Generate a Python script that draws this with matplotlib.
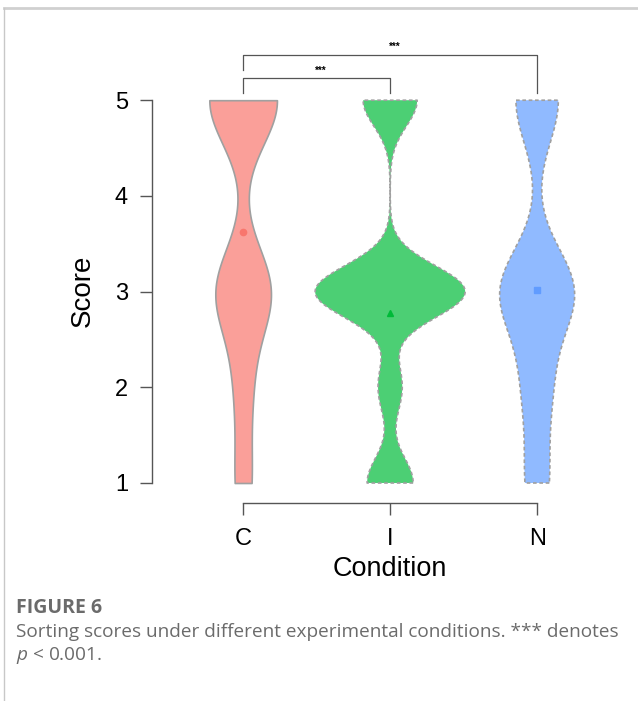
import numpy as np
import matplotlib.pyplot as plt
from matplotlib.lines import Line2D

# ---- data ----
conditions = ["C", "I", "N"]
score_levels = [1, 2, 3, 4, 5]
counts_c = [8, 8, 28, 0, 35]
counts_i = [23, 12, 75, 0, 27]
counts_n = [11, 13, 36, 0, 21]
mean_scores = [3.62, 2.78, 3.02]
y_ticks = [1, 2, 3, 4, 5]

# kde bandwidth (score units) and max violin width per condition
bandwidths = [0.46, 0.27, 0.45]
violin_widths = [0.46, 1.02, 0.51]

fill_colors = ["#FA9F99", "#4CCF74", "#90BAFF"]
mean_colors = ["#F8766D", "#00BA38", "#619CFF"]
mean_markers = ["o", "^", "s"]
edge_styles = ["-", (0, (2.2, 1.6)), (0, (2.2, 1.6))]

# significance brackets: (left, right, bar y, left leg end, right leg end)
brackets = [(0, 1, 5.233, 5.08, 5.08), (0, 2, 5.477, 5.32, 5.08)]
sig_labels = ["***", "***"]

plt.rcParams["font.family"] = ["Liberation Sans", "DejaVu Sans"]
plt.rcParams["mathtext.fontset"] = "custom"
plt.rcParams["mathtext.rm"] = "Open Sans"
plt.rcParams["mathtext.it"] = "Open Sans:italic"

W, H = 638, 701
fig = plt.figure(figsize=(W / 100, H / 100), dpi=100)
ax = fig.add_axes([152 / W, 1 - 503 / H, 466 / W, 465 / H])

groups = [counts_c, counts_i, counts_n]
for i, counts in enumerate(groups):
    data = np.repeat(score_levels, counts).astype(float)
    factor = bandwidths[i] / np.std(data, ddof=1)
    parts = ax.violinplot([data], positions=[i], widths=violin_widths[i],
                          bw_method=factor, showextrema=False, points=300)
    for body in parts["bodies"]:
        body.set_facecolor(fill_colors[i])
        body.set_edgecolor("#A0A0A0")
        body.set_linewidth(1.2)
        body.set_linestyle(edge_styles[i])
        body.set_alpha(1)
    ax.plot(i, mean_scores[i], marker=mean_markers[i], color=mean_colors[i],
            markersize=4.5, linestyle="none", zorder=3)

for (a, b, top, la, lb), lab in zip(brackets, sig_labels):
    ax.plot([a, a, b, b], [la, top, top, lb], color="#555555", lw=0.9,
            clip_on=False)
    ax.text((a + b) / 2 + 0.03, top + 0.025, lab, ha="center", va="bottom",
            fontsize=7, fontweight="bold")

ax.set_xlim(-0.62, 2.55)
ax.set_ylim(0.791, 5.65)
ax.set_xticks(range(len(conditions)), conditions)
ax.set_yticks(y_ticks)
for s in ["top", "right"]:
    ax.spines[s].set_visible(False)
ax.spines["left"].set_bounds(1, 5)
ax.spines["bottom"].set_bounds(0, 2)
for s in ["left", "bottom"]:
    ax.spines[s].set_color("#555555")
    ax.spines[s].set_linewidth(1)
ax.tick_params(axis="both", length=8.6, width=1, color="#555555",
               labelsize=17, pad=8.6)
ax.tick_params(axis="x", pad=9.4)

ax.text(-0.148, 0.456, "Score", transform=ax.transAxes, rotation=90,
        ha="center", va="center", fontsize=20)
ax.text(1, -0.142, "Condition", transform=ax.get_xaxis_transform(),
        ha="center", va="center", fontsize=19.5)

# caption
fig.text(16 / W, 1 - 608 / H, "FIGURE 6", fontsize=14, fontweight="bold",
         color="#6b6b6b", family="Open Sans", va="center")
fig.text(16 / W, 1 - 632 / H,
         "Sorting scores under different experimental conditions. *** denotes",
         fontsize=13.7, color="#6b6b6b", family="Open Sans", va="center")
fig.text(16 / W, 1 - 656 / H, "$p$ < 0.001.", fontsize=13.7, color="#6b6b6b",
         family="Open Sans", va="center")

# page frame
fig.add_artist(Line2D([4 / W, 1], [1 - 8 / H, 1 - 8 / H], color="#d0d0d0", lw=2))
fig.add_artist(Line2D([4 / W, 4 / W], [0, 1 - 8 / H], color="#c8c8c8", lw=1))

fig.savefig("out.png", dpi=100)
